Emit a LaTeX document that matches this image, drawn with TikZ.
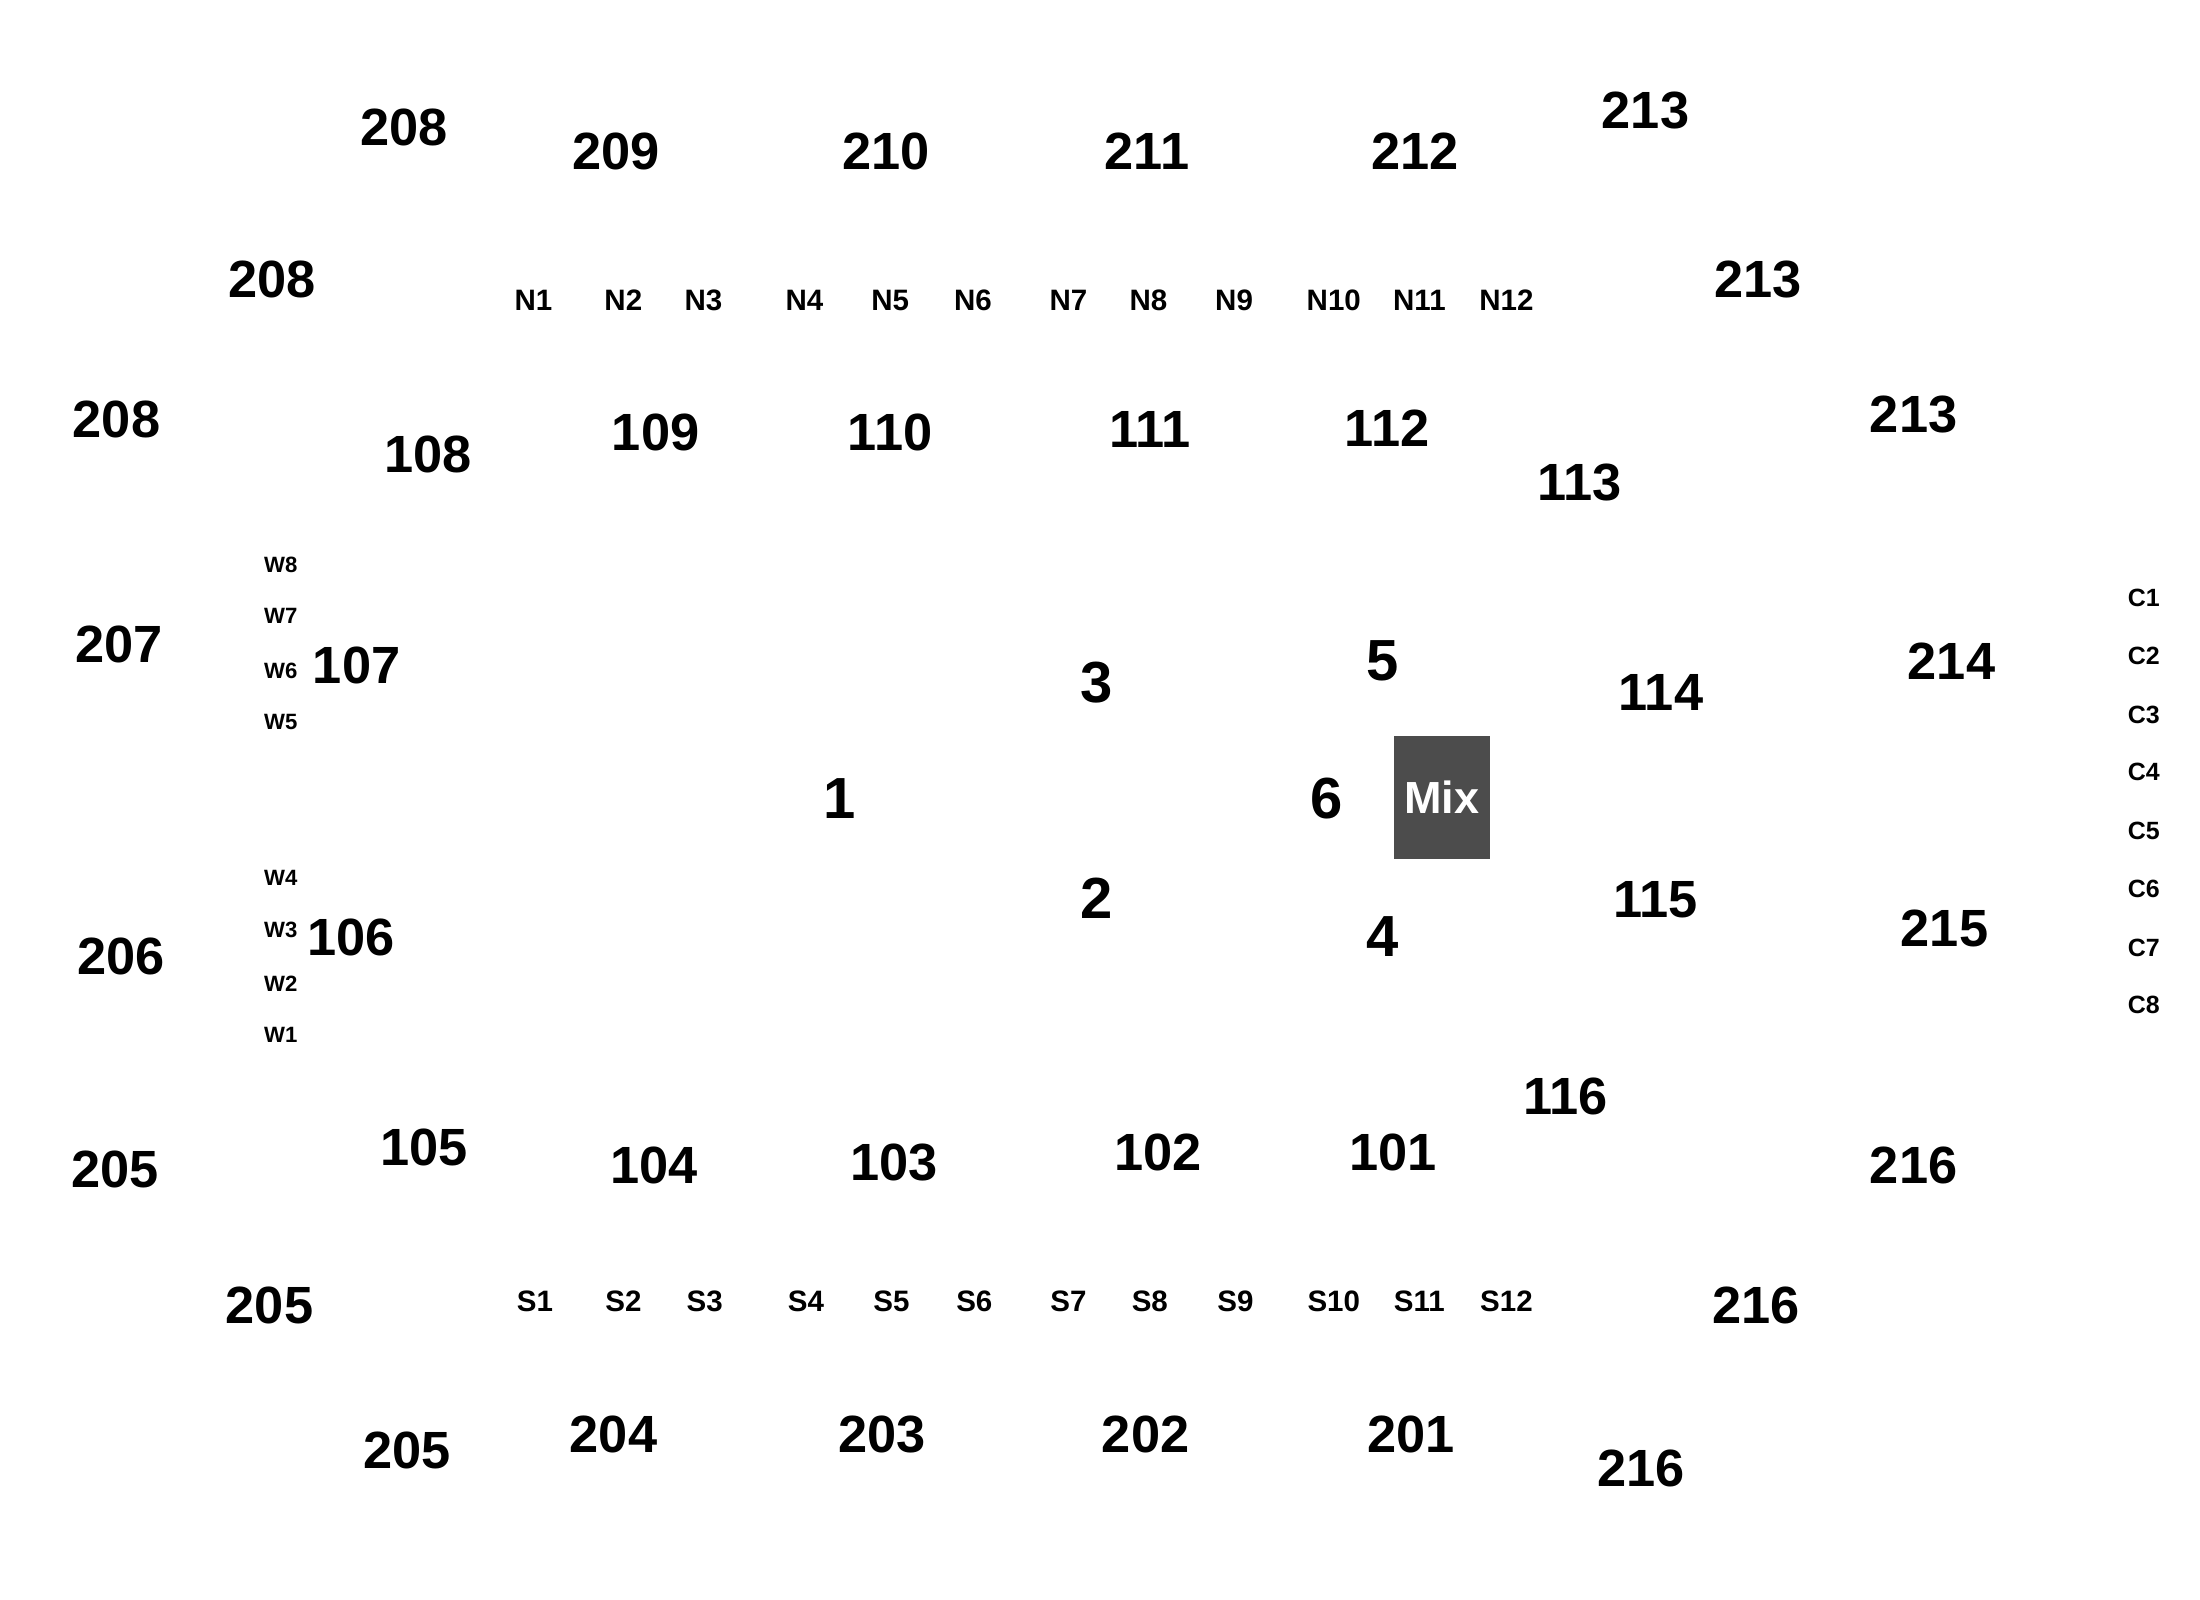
\documentclass[tikz,border=0pt]{standalone}
\usepackage{fontspec}
\setmainfont{Liberation Sans}
\usetikzlibrary{positioning}

\tikzset{
  sec/.style={inner sep=0pt, font=\fontsize{14.9}{16}\selectfont\bfseries},
  stage/.style={inner sep=0pt, font=\fontsize{16.5}{18}\selectfont\bfseries},
  row/.style={inner sep=0pt, font=\fontsize{8.4}{9}\selectfont\bfseries},
  crow/.style={inner sep=0pt, font=\fontsize{7.1}{8}\selectfont\bfseries},
  wrow/.style={inner sep=0pt, font=\fontsize{6.3}{7}\selectfont\bfseries},
  mixbox/.style={fill=black!70, text=white, inner sep=0pt, minimum width=0.96cm, minimum height=1.23cm,
    font=\fontsize{12.8}{14}\selectfont\bfseries}
}

\begin{document}
\begin{tikzpicture}[x=0.01404cm, y=-0.01404cm]
        \useasboundingbox (0,0) rectangle (1567,1139.6);

        % upper level, north side
        \node[sec] (s208a) at (288,91) {208};
        \node[sec] (s209) at (439,108) {209};
        \node[sec] (s210) at (631,108) {210};
        \node[sec] (s211) at (817,108) {211};
        \node[sec] (s212) at (1008,108) {212};
        \node[sec] (s213a) at (1172,79) {213};
        \node[sec] (s208b) at (194,199) {208};
        \node[sec] (s213b) at (1252,199) {213};
        \node[sec] (s208c) at (83,299) {208};
        \node[sec] (s213c) at (1363,295) {213};

        % north rows
        \node[row] (n1) at (380,214) {N1};
        \node[row] (n2) at (444,214) {N2};
        \node[row] (n3) at (501,214) {N3};
        \node[row] (n4) at (573,214) {N4};
        \node[row] (n5) at (634,214) {N5};
        \node[row] (n6) at (693,214) {N6};
        \node[row] (n7) at (761,214) {N7};
        \node[row] (n8) at (818,214) {N8};
        \node[row] (n9) at (879,214) {N9};
        \node[row] (n10) at (950,214) {N10};
        \node[row] (n11) at (1011,214) {N11};
        \node[row] (n12) at (1073,214) {N12};

        % lower level, north side
        \node[sec] (s108) at (305,324) {108};
        \node[sec] (s109) at (467,308) {109};
        \node[sec] (s110) at (634,308) {110};
        \node[sec] (s111) at (819,306) {111};
        \node[sec] (s112) at (988,305) {112};
        \node[sec] (s113) at (1125,344) {113};

        % west side
        \node[sec] (s207) at (85,459) {207};
        \node[sec] (s206) at (86,681) {206};
        \node[sec] (s107) at (254,474) {107};
        \node[sec] (s106) at (250,668) {106};
        \node[wrow] (w8) at (200,402) {W8};
        \node[wrow] (w7) at (200,439) {W7};
        \node[wrow] (w6) at (200,478) {W6};
        \node[wrow] (w5) at (200,514) {W5};
        \node[wrow] (w4) at (200,625) {W4};
        \node[wrow] (w3) at (200,662) {W3};
        \node[wrow] (w2) at (200,701) {W2};
        \node[wrow] (w1) at (200,737) {W1};

        % floor
        \node[stage] (f1) at (598,569) {1};
        \node[stage] (f2) at (781,640) {2};
        \node[stage] (f3) at (781,486) {3};
        \node[stage] (f4) at (985,667) {4};
        \node[stage] (f5) at (985,471) {5};
        \node[stage] (f6) at (945,569) {6};
        \node[mixbox] (mix) at (1027,568) {Mix};

        % east side
        \node[sec] (s114) at (1183,493) {114};
        \node[sec] (s115) at (1179,641) {115};
        \node[sec] (s214) at (1390,471) {214};
        \node[sec] (s215) at (1385,661) {215};
        \node[crow] (c1) at (1527,426) {C1};
        \node[crow] (c2) at (1527,467) {C2};
        \node[crow] (c3) at (1527,509) {C3};
        \node[crow] (c4) at (1527,550) {C4};
        \node[crow] (c5) at (1527,592) {C5};
        \node[crow] (c6) at (1527,633) {C6};
        \node[crow] (c7) at (1527,675) {C7};
        \node[crow] (c8) at (1527,716) {C8};

        % lower level, south side
        \node[sec] (s116) at (1115,781) {116};
        \node[sec] (s105) at (302,817) {105};
        \node[sec] (s104) at (466,830) {104};
        \node[sec] (s103) at (637,828) {103};
        \node[sec] (s102) at (825,821) {102};
        \node[sec] (s101) at (992,821) {101};

        % south rows
        \node[row] (r1) at (381,927) {S1};
        \node[row] (r2) at (444,927) {S2};
        \node[row] (r3) at (502,927) {S3};
        \node[row] (r4) at (574,927) {S4};
        \node[row] (r5) at (635,927) {S5};
        \node[row] (r6) at (694,927) {S6};
        \node[row] (r7) at (761,927) {S7};
        \node[row] (r8) at (819,927) {S8};
        \node[row] (r9) at (880,927) {S9};
        \node[row] (r10) at (950,927) {S10};
        \node[row] (r11) at (1011,927) {S11};
        \node[row] (r12) at (1073,927) {S12};

        % upper level, south side
        \node[sec] (s205a) at (82,833) {205};
        \node[sec] (s216a) at (1363,830) {216};
        \node[sec] (s205b) at (192,930) {205};
        \node[sec] (s216b) at (1251,930) {216};
        \node[sec] (s205c) at (290,1033) {205};
        \node[sec] (s204) at (437,1022) {204};
        \node[sec] (s203) at (628,1022) {203};
        \node[sec] (s202) at (816,1022) {202};
        \node[sec] (s201) at (1005,1022) {201};
        \node[sec] (s216c) at (1169,1046) {216};

    \end{tikzpicture}
\end{document}
